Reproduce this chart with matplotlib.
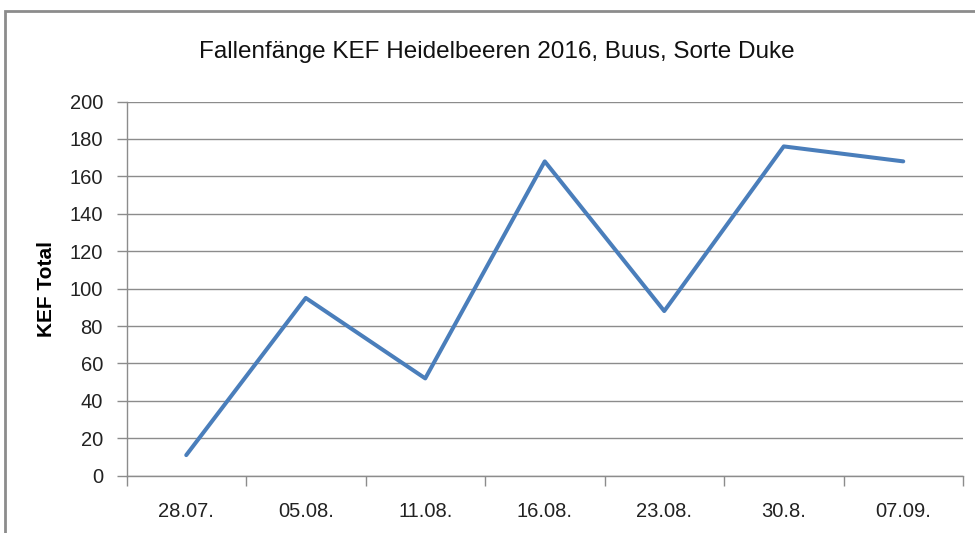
import matplotlib.pyplot as plt
from matplotlib.patches import Rectangle

dates = ['28.07.', '05.08.', '11.08.', '16.08.', '23.08.', '30.8.', '07.09.']
kef_total = [11, 95, 52, 168, 88, 176, 168]
y_ticks = [0, 20, 40, 60, 80, 100, 120, 140, 160, 180, 200]

plt.rcParams['font.family'] = ['Liberation Sans', 'DejaVu Sans']

W, H = 975, 533
fig = plt.figure(figsize=(W / 100, H / 100), dpi=100)

# chart frame (runs off the right and bottom edge)
fig.patches.append(Rectangle((5 / W, -0.1), 1.2, 1 - 11 / H + 0.1, transform=fig.transFigure,
                             fill=False, edgecolor='#8c8c8c', linewidth=2))

left, right, top, bottom = 126.5, 963, 101.5, 475.7
ax = fig.add_axes([left / W, 1 - bottom / H, (right - left) / W, (bottom - top) / H])

x = range(len(dates))
ax.plot(x, kef_total, color='#4a7ebb', linewidth=2.9, solid_capstyle='round', solid_joinstyle='round')

ax.set_xlim(-0.5, len(dates) - 0.5)
ax.set_ylim(0, 200)
ax.set_yticks(y_ticks)
ax.set_yticklabels([str(v) for v in y_ticks], fontsize=14.5, color='#222222')
ax.set_xticks(list(x))
ax.set_xticklabels(dates, fontsize=14.5, color='#222222')
ax.set_xticks([i - 0.5 for i in range(len(dates) + 1)], minor=True)
ax.tick_params(axis='x', which='major', length=0, pad=19)
ax.tick_params(axis='x', which='minor', length=7, color='#8c8c8c', width=1)
ax.tick_params(axis='y', length=7, color='#8c8c8c', width=1, pad=10)

ax.grid(axis='y', color='#8c8c8c', linewidth=1)
ax.set_axisbelow(True)
for s in ['top', 'right']:
    ax.spines[s].set_visible(False)
for s in ['left', 'bottom']:
    ax.spines[s].set_color('#8c8c8c')
    ax.spines[s].set_linewidth(1)

ax.set_ylabel('KEF Total', fontsize=15, fontweight='bold', labelpad=10)
fig.text(497 / W, 1 - 52 / H, 'Fallenfänge KEF Heidelbeeren 2016, Buus, Sorte Duke',
         ha='center', va='center', fontsize=17.5, color='#111111')

fig.savefig('out.png', dpi=100)
